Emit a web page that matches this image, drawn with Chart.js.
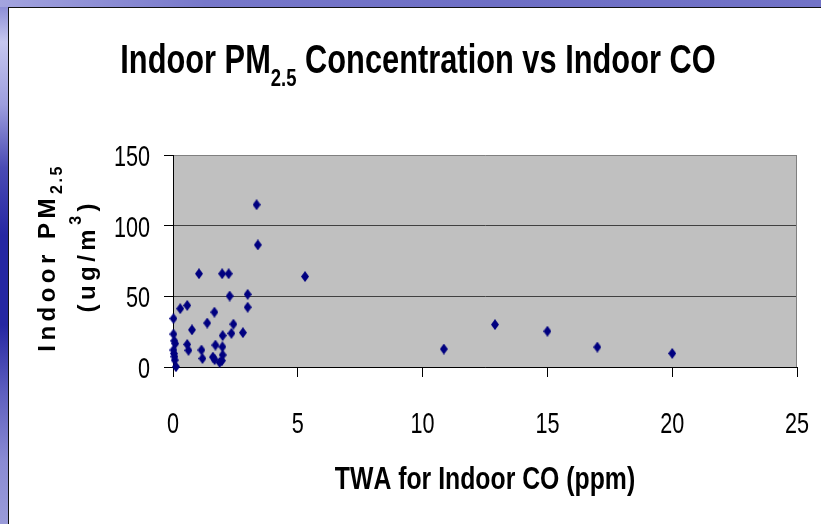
<!DOCTYPE html>
<html>
<head>
<meta charset="utf-8">
<script src="https://cdn.jsdelivr.net/npm/chart.js@4.4.0/dist/chart.umd.min.js"></script>
<style>
  html, body { margin: 0; padding: 0; }
  body { width: 821px; height: 524px; position: relative; overflow: hidden; background: #fff; }
  #leftBar {
    position: absolute; left: 0; top: 0; width: 8px; height: 524px;
    background: linear-gradient(to bottom, #8283d2 0%, #c6c7ef 8%, #9d9edd 20%, #4a4bb4 32%, #2627a2 45%, #2627a2 62%, #5e5fbf 75%, #8a8bd3 88%, #9a9bd9 100%);
  }
  #topBar {
    position: absolute; left: 0; top: 0; width: 821px; height: 7px;
    background: linear-gradient(to right, #a3a4df 0%, #7778ca 25%, #6e6fc5 60%, #7273c7 100%);
  }
  #panel {
    position: absolute; left: 8px; top: 7px; right: 0; bottom: 0;
    border-left: 1px solid #111; border-top: 1px solid #111; background: #fff;
  }
  canvas { position: absolute; left: 0; top: 0; }
</style>
</head>
<body>
<div id="leftBar"></div>
<div id="topBar"></div>
<div id="panel"></div>
<canvas id="chart" width="821" height="524"></canvas>
<script>
// TWA indoor CO (ppm) and indoor PM2.5 (ug/m3)
const coPpm = [
  3.35, 3.4, 1.04, 1.97, 2.23, 5.29, 2.27, 2.99, 2.99, 0.57,
  0.29, 0.02, 1.66, 1.37, 2.42, 0.76, 2.34, 2.8, 1.99, 0.02,
  0.05, 0.09, 0.57, 0.62, 1.14, 1.7, 1.98, 0.02, 0.06, 1.18,
  1.6, 1.67, 1.99, 1.96, 1.87, 0.07, 0.12, 0.04,
  10.85, 12.9, 15.0, 17.0, 20.0
];
const pm25 = [
  114.8, 86.4, 66, 66, 66, 64, 50.2, 51.4, 42.3, 43.6,
  41.3, 34.3, 38.8, 31.1, 30.3, 26.3, 23.8, 24.3, 22.2, 23.3,
  18.5, 16.5, 16, 11.8, 12, 15.5, 14.3, 12, 7.3, 6,
  7, 5.2, 8.5, 4.5, 3.2, 4.9, 0.2, 9.5,
  12.7, 30, 25.3, 14.1, 9.6
];
const xTicks = [0, 5, 10, 15, 20, 25];
const yTicks = [0, 50, 100, 150];

const FONT = "'Liberation Sans', Arial, sans-serif";

// navy diamond, a bit taller than wide like the original
const diamond = document.createElement('canvas');
diamond.width = 8;
diamond.height = 11;
const dctx = diamond.getContext('2d');
dctx.fillStyle = '#000080';
dctx.beginPath();
dctx.moveTo(4, 0);
dctx.lineTo(8, 5.5);
dctx.lineTo(4, 11);
dctx.lineTo(0, 5.5);
dctx.closePath();
dctx.fill();

function runsWidth(ctx, runs) {
  let w = 0;
  runs.forEach(r => {
    ctx.font = r.font;
    for (const ch of r.t) w += ctx.measureText(ch).width + (r.sp || 0);
  });
  return w;
}

// draws text pieces (for sub/superscripts), squeezed by sx, anchored at x
function drawRuns(ctx, runs, x, y, sx, align) {
  const w = runsWidth(ctx, runs);
  ctx.save();
  ctx.translate(x, y);
  ctx.scale(sx || 1, 1);
  let cx = align === 'right' ? -w : -w / 2;
  ctx.fillStyle = '#000';
  ctx.textAlign = 'left';
  ctx.textBaseline = 'alphabetic';
  runs.forEach(r => {
    ctx.font = r.font;
    for (const ch of r.t) {
      ctx.fillText(ch, cx, r.dy || 0);
      cx += ctx.measureText(ch).width + (r.sp || 0);
    }
  });
  ctx.restore();
}

const slideTitles = {
  id: 'slideTitles',
  beforeDraw(chart) {
    const ctx = chart.ctx, a = chart.chartArea;
    ctx.save();
    ctx.fillStyle = '#c0c0c0';
    ctx.fillRect(a.left, a.top, a.right - a.left, a.bottom - a.top);
    ctx.restore();
  },
  afterDatasetsDraw(chart) {
    const ctx = chart.ctx, a = chart.chartArea;
    const xs = chart.scales.x, ys = chart.scales.y;
    ctx.save();
    ctx.strokeStyle = '#808080';
    ctx.lineWidth = 1;
    ctx.beginPath();
    ctx.moveTo(a.right - 0.5, a.top);
    ctx.lineTo(a.right - 0.5, a.bottom);
    ctx.stroke();

    // tick labels, in the narrow look of the original
    const tickFont = `30px ${FONT}`;
    xs.ticks.forEach(t => {
      drawRuns(ctx, [{ t: String(t.value), font: tickFont }], xs.getPixelForValue(t.value), 433, 0.72);
    });
    ys.ticks.forEach(t => {
      drawRuns(ctx, [{ t: String(t.value), font: tickFont }], 150, ys.getPixelForValue(t.value) + 11, 0.72, 'right');
    });

    drawRuns(ctx, [
      { t: 'Indoor PM', font: `bold 40px ${FONT}` },
      { t: '2.5', font: `bold 24px ${FONT}`, dy: 13 },
      { t: ' Concentration vs Indoor CO', font: `bold 40px ${FONT}` }
    ], 418, 73, 0.77);

    drawRuns(ctx, [
      { t: 'TWA for Indoor CO (ppm)', font: `bold 31px ${FONT}` }
    ], (a.left + a.right) / 2, 489, 0.8);

    ctx.translate(55, 258);
    ctx.rotate(-Math.PI / 2);
    drawRuns(ctx, [
      { t: 'Indoor PM', font: `bold 24px ${FONT}`, sp: 4.5 },
      { t: '2.5', font: `bold 16px ${FONT}`, sp: 2.5, dy: 7 }
    ], 0, 0);
    ctx.rotate(Math.PI / 2);
    ctx.translate(40, 0);
    ctx.rotate(-Math.PI / 2);
    drawRuns(ctx, [
      { t: '(ug/m', font: `bold 24px ${FONT}`, sp: 4.5 },
      { t: '3', font: `bold 16px ${FONT}`, sp: 4.5, dy: -14 },
      { t: ')', font: `bold 24px ${FONT}`, sp: 0 }
    ], 0, 0);
    ctx.restore();
  }
};

new Chart(document.getElementById('chart'), {
  type: 'scatter',
  data: {
    datasets: [{
      label: 'Indoor PM2.5',
      data: coPpm.map((x, i) => ({ x: x, y: pm25[i] })),
      pointStyle: diamond,
      backgroundColor: '#000080',
      borderColor: '#000080',
      clip: false
    }]
  },
  options: {
    responsive: false,
    animation: false,
    layout: { padding: { left: 0, top: 155, right: 24, bottom: 0 } },
    plugins: {
      legend: { display: false },
      tooltip: { enabled: false }
    },
    scales: {
      x: {
        type: 'linear',
        min: xTicks[0],
        max: xTicks[xTicks.length - 1],
        afterFit: s => { s.height = 157; },
        afterBuildTicks: s => { s.ticks = xTicks.map(v => ({ value: v })); },
        grid: { drawOnChartArea: false, drawTicks: true, tickLength: 10, tickColor: '#000' },
        border: { color: '#000', width: 1 },
        ticks: { display: false }
      },
      y: {
        min: yTicks[0],
        max: yTicks[yTicks.length - 1],
        afterFit: s => { s.width = 173; },
        afterBuildTicks: s => { s.ticks = yTicks.map(v => ({ value: v })); },
        grid: {
          color: c => (c.tick && c.tick.value === 150 ? '#808080' : '#404040'),
          tickColor: '#000',
          tickLength: 9
        },
        border: { color: '#000', width: 1 },
        ticks: { display: false }
      }
    }
  },
  plugins: [slideTitles]
});
</script>
</body>
</html>
